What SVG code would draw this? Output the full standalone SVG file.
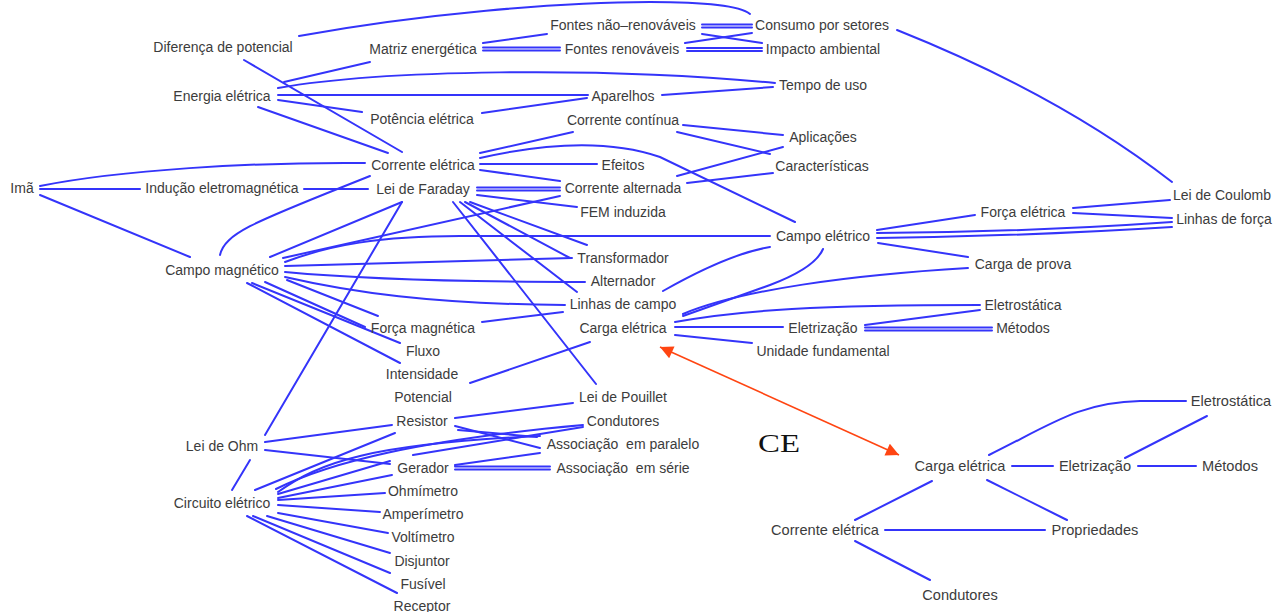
<svg xmlns="http://www.w3.org/2000/svg" width="1274" height="612" viewBox="0 0 1274 612">
<style>
.bg{fill:#ffffff}
.e{fill:none;stroke:#3434fa;stroke-width:2;stroke-linecap:round}
.a{fill:none;stroke:#ff4512;stroke-width:1.6}
text{font-family:"Liberation Sans",Arial,sans-serif;font-size:14px;fill:#3c3c3c;text-anchor:middle}
.pre{white-space:pre}
.c2{font-size:14.6px}
.ce{font-family:"Liberation Serif","Times New Roman",serif;font-size:25px;fill:#111}
</style>
<defs>
<marker id="ah" viewBox="0 0 10 10" refX="10" refY="5" markerWidth="16" markerHeight="13" markerUnits="userSpaceOnUse" orient="auto-start-reverse">
<path d="M0,0 L10,5 L0,10 z" fill="#ff4512"/>
</marker>
</defs>
<rect class="bg" x="0" y="0" width="1274" height="612"/>
<g id="connectors">
<path class="e" d="M299,36 C420,14 560,2 650,2 C710,2 740,6 750,14"/>
<path class="e" d="M897,30 Q1060,95 1172,182"/>
<path class="e" d="M244,60 L402,152"/>
<path class="e" d="M284,82 L370,62"/>
<path class="e" d="M278,88 C380,70 600,66 775,83"/>
<path class="e" d="M278,95 L588,95"/>
<path class="e" d="M278,100 L362,112"/>
<path class="e" d="M258,107 L388,153"/>
<path class="e" d="M483,43 L547,34"/>
<path class="e" d="M483,47.5 L560,47.5"/>
<path class="e" d="M483,50.5 L560,50.5"/>
<path class="e" d="M702,24.5 L752,24.5"/>
<path class="e" d="M702,27.5 L752,27.5"/>
<path class="e" d="M685,43 L752,33"/>
<path class="e" d="M702,34 L762,43"/>
<path class="e" d="M687,48 L762,48"/>
<path class="e" d="M687,51 L762,51"/>
<path class="e" d="M662,95 L773,87"/>
<path class="e" d="M482,113 L587,98"/>
<path class="e" d="M683,125 L783,135"/>
<path class="e" d="M677,132 L770,154"/>
<path class="e" d="M783,147 L677,176"/>
<path class="e" d="M687,183 L773,173"/>
<path class="e" d="M480,153 L573,132"/>
<path class="e" d="M480,158 Q590,133 660,157 L795,222"/>
<path class="e" d="M480,164 L597,164"/>
<path class="e" d="M480,170 L560,181"/>
<path class="e" d="M477,187.5 L560,187.5"/>
<path class="e" d="M477,190.5 L560,190.5"/>
<path class="e" d="M477,195 L577,207"/>
<path class="e" d="M40,186 C120,170 250,162 365,163"/>
<path class="e" d="M40,189 L140,189"/>
<path class="e" d="M40,195 L190,257"/>
<path class="e" d="M304,189 L368,189"/>
<path class="e" d="M220,255 C225,232 260,220 370,176"/>
<path class="e" d="M270,257 L402,202"/>
<path class="e" d="M283,258 L560,196"/>
<path class="e" d="M285,262 C330,245 380,236 460,236 L770,236"/>
<path class="e" d="M285,266 L572,258"/>
<path class="e" d="M285,272 C350,278 450,282 585,282"/>
<path class="e" d="M285,277 C350,292 430,304 565,305"/>
<path class="e" d="M287,280 L378,316"/>
<path class="e" d="M265,282 L365,327"/>
<path class="e" d="M252,283 L400,343"/>
<path class="e" d="M247,283 L400,363"/>
<path class="e" d="M482,322 L563,312"/>
<path class="e" d="M470,383 L590,342"/>
<path class="e" d="M453,202 L596,384"/>
<path class="e" d="M460,202 L577,292"/>
<path class="e" d="M465,202 L570,258"/>
<path class="e" d="M470,202 L587,245"/>
<path class="e" d="M402,202 L265,435"/>
<path class="e" d="M877,230 L975,215"/>
<path class="e" d="M877,233 Q1030,232 1172,222"/>
<path class="e" d="M877,238 Q1030,236 1172,227"/>
<path class="e" d="M878,243 L968,257"/>
<path class="e" d="M663,291 C700,270 740,252 770,247"/>
<path class="e" d="M823,249 Q815,268 770,285 L683,316"/>
<path class="e" d="M968,268 C850,275 740,290 683,314"/>
<path class="e" d="M675,322 C740,310 820,305 980,305"/>
<path class="e" d="M675,327 L783,327"/>
<path class="e" d="M675,335 L752,343"/>
<path class="e" d="M865,325 L980,310"/>
<path class="e" d="M865,327.5 L992,327.5"/>
<path class="e" d="M865,330.5 L992,330.5"/>
<path class="e" d="M1073,208 L1170,200"/>
<path class="e" d="M1073,213 L1172,218"/>
<path class="e" d="M265,442 L392,425"/>
<path class="e" d="M265,450 L390,464"/>
<path class="e" d="M250,460 L232,490"/>
<path class="e" d="M255,490 L395,433"/>
<path class="e" d="M276,489 C330,462 420,440 583,425"/>
<path class="e" d="M278,492 C320,462 370,444 540,436"/>
<path class="e" d="M278,494 L390,461"/>
<path class="e" d="M278,498 L392,475"/>
<path class="e" d="M278,500 L385,493"/>
<path class="e" d="M278,505 L380,512"/>
<path class="e" d="M278,513 L388,533"/>
<path class="e" d="M267,516 L390,553"/>
<path class="e" d="M253,516 L390,573"/>
<path class="e" d="M247,516 L397,593"/>
<path class="e" d="M455,418 L573,403"/>
<path class="e" d="M455,426 L540,448"/>
<path class="e" d="M458,430 L537,437"/>
<path class="e" d="M413,455 L583,427"/>
<path class="e" d="M455,465 L540,453"/>
<path class="e" d="M455,466.5 L550,466.5"/>
<path class="e" d="M455,469.5 L550,469.5"/>
<path class="e" d="M989,455 C1050,425 1080,402 1140,401 L1186,401"/>
<path class="e" d="M1125,458 L1207,416"/>
<path class="e" d="M1012,466 L1053,466"/>
<path class="e" d="M1138,466 L1196,466"/>
<path class="e" d="M932,481 L855,520"/>
<path class="e" d="M987,480 L1067,520"/>
<path class="e" d="M885,530 L1045,530"/>
<path class="e" d="M855,541 L930,580"/>
<path class="a" d="M660,347 L899,455" marker-start="url(#ah)" marker-end="url(#ah)"/>
</g>
<g id="n-diferenca"><text x="223" y="52">Diferença de potencial</text></g>
<g id="n-matriz"><text x="423" y="54">Matriz energética</text></g>
<g id="n-fontes-nao"><text x="623" y="30">Fontes não–renováveis</text></g>
<g id="n-fontes-ren"><text x="622" y="54">Fontes renováveis</text></g>
<g id="n-consumo"><text x="822" y="30">Consumo por setores</text></g>
<g id="n-impacto"><text x="823" y="54">Impacto ambiental</text></g>
<g id="n-energia"><text x="222" y="101">Energia elétrica</text></g>
<g id="n-tempo"><text x="823" y="90">Tempo de uso</text></g>
<g id="n-aparelhos"><text x="623" y="101">Aparelhos</text></g>
<g id="n-potencia"><text x="422" y="124">Potência elétrica</text></g>
<g id="n-continua"><text x="623" y="125">Corrente contínua</text></g>
<g id="n-aplicacoes"><text x="823" y="142">Aplicações</text></g>
<g id="n-caracteristicas"><text x="822" y="171">Características</text></g>
<g id="n-corrente"><text x="423" y="170">Corrente elétrica</text></g>
<g id="n-efeitos"><text x="623" y="170">Efeitos</text></g>
<g id="n-ima"><text x="22" y="193">Imã</text></g>
<g id="n-inducao"><text x="222" y="193">Indução eletromagnética</text></g>
<g id="n-faraday"><text x="423" y="194">Lei de Faraday</text></g>
<g id="n-alternada"><text x="623" y="193">Corrente alternada</text></g>
<g id="n-fem"><text x="623" y="217">FEM induzida</text></g>
<g id="n-coulomb"><text x="1222" y="200">Lei de Coulomb</text></g>
<g id="n-forca-el"><text x="1023" y="217">Força elétrica</text></g>
<g id="n-linhas-forca"><text x="1224" y="224">Linhas de força</text></g>
<g id="n-campo-el"><text x="823" y="241">Campo elétrico</text></g>
<g id="n-campo-mag"><text x="222" y="275">Campo magnético</text></g>
<g id="n-transformador"><text x="623" y="263">Transformador</text></g>
<g id="n-carga-prova"><text x="1023" y="269">Carga de prova</text></g>
<g id="n-alternador"><text x="623" y="286">Alternador</text></g>
<g id="n-linhas-campo"><text x="623" y="309">Linhas de campo</text></g>
<g id="n-eletrostatica"><text x="1023" y="310">Eletrostática</text></g>
<g id="n-forca-mag"><text x="423" y="333">Força magnética</text></g>
<g id="n-carga"><text x="623" y="333">Carga elétrica</text></g>
<g id="n-eletrizacao"><text x="823" y="333">Eletrização</text></g>
<g id="n-metodos"><text x="1023" y="333">Métodos</text></g>
<g id="n-fluxo"><text x="423" y="356">Fluxo</text></g>
<g id="n-unidade"><text x="823" y="356">Unidade fundamental</text></g>
<g id="n-intensidade"><text x="422" y="379">Intensidade</text></g>
<g id="n-potencial"><text x="423" y="402">Potencial</text></g>
<g id="n-pouillet"><text x="623" y="402">Lei de Pouillet</text></g>
<g id="n-resistor"><text x="422" y="426">Resistor</text></g>
<g id="n-condutores"><text x="623" y="426">Condutores</text></g>
<g id="n-ohm"><text x="222" y="451">Lei de Ohm</text></g>
<g id="n-paralelo"><text class="pre" x="623" y="449">Associação  em paralelo</text></g>
<g id="n-gerador"><text x="423" y="473">Gerador</text></g>
<g id="n-serie"><text class="pre" x="623" y="473">Associação  em série</text></g>
<g id="n-ohmimetro"><text x="423" y="496">Ohmímetro</text></g>
<g id="n-circuito"><text x="222" y="508">Circuito elétrico</text></g>
<g id="n-amperimetro"><text x="423" y="519">Amperímetro</text></g>
<g id="n-voltimetro"><text x="423" y="542">Voltímetro</text></g>
<g id="n-disjuntor"><text x="422" y="566">Disjuntor</text></g>
<g id="n-fusivel"><text x="423" y="589">Fusível</text></g>
<g id="n-receptor"><text x="422" y="611">Receptor</text></g>
<g id="n-ce"><text class="ce" x="779" y="452" textLength="42" lengthAdjust="spacingAndGlyphs">CE</text></g>
<g id="n2-carga"><text class="c2" x="960" y="471">Carga elétrica</text></g>
<g id="n2-eletrizacao"><text class="c2" x="1095" y="471">Eletrização</text></g>
<g id="n2-metodos"><text class="c2" x="1230" y="471">Métodos</text></g>
<g id="n2-eletrostatica"><text class="c2" x="1231" y="406">Eletrostática</text></g>
<g id="n2-corrente"><text class="c2" x="825" y="535">Corrente elétrica</text></g>
<g id="n2-propriedades"><text class="c2" x="1095" y="535">Propriedades</text></g>
<g id="n2-condutores"><text class="c2" x="960" y="600">Condutores</text></g>
</svg>
